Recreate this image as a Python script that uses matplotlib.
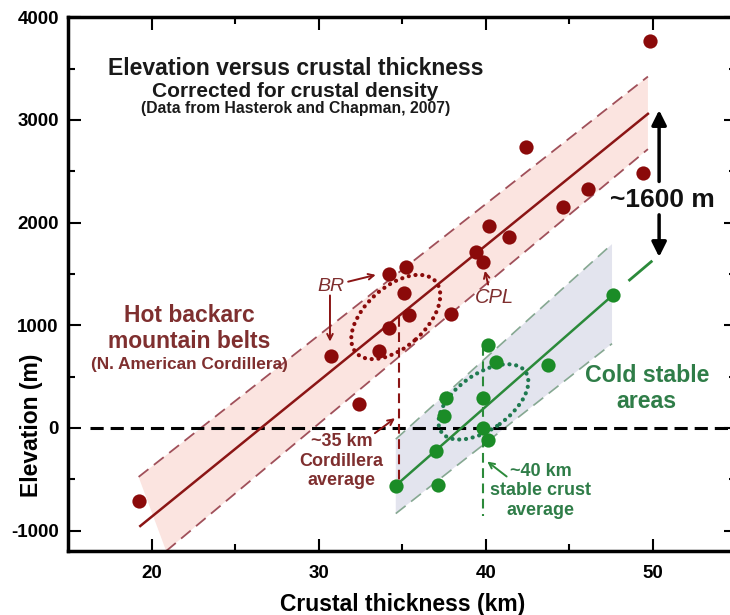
import numpy as np
import matplotlib.pyplot as plt
from matplotlib.patches import Ellipse, Polygon
from matplotlib.transforms import Affine2D

plt.rcParams['font.family'] = ['Liberation Sans', 'DejaVu Sans']
plt.rcParams['font.weight'] = 'bold'
plt.rcParams['lines.scale_dashes'] = False
plt.rcParams['axes.unicode_minus'] = False

# hot backarc mountain belts (N. American Cordillera)
hot_x = [19.2, 30.7, 32.4, 33.6, 34.2, 34.2, 35.2, 35.1, 35.4, 37.9,
         39.4, 39.8, 40.2, 41.4, 42.4, 44.6, 46.1, 49.4, 49.8]
hot_y = [-715, 696, 229, 753, 975, 1503, 1568, 1315, 1101, 1109,
         1709, 1618, 1962, 1855, 2734, 2153, 2325, 2482, 3771]

# cold stable areas
cold_x = [34.6, 37.1, 37.0, 37.5, 37.6, 39.8, 39.8, 40.1, 40.1, 40.6, 43.7, 47.6]
cold_y = [-562, -554, -222, 115, 287, 294, 0, -115, 803, 639, 612, 1293]

# fit lines and band edges
hot_fit_x = [19.3, 49.7]
hot_fit_y = [-956, 3059]
hot_up_x = [19.2, 49.7]
hot_up_y = [-478, 3422]
hot_lo_x = [20.85, 49.7]
hot_lo_y = [-1200, 2715]

cold_fit_x = [34.6, 47.6]
cold_fit_y = [-562, 1293]
cold_ext_x = [48.6, 49.9]
cold_ext_y = [1440, 1619]
cold_up_x = [34.6, 47.55]
cold_up_y = [-110, 1790]
cold_lo_x = [34.6, 47.55]
cold_lo_y = [-835, 820]

hot_avg = 34.8
cold_avg = 39.85

red_pt = '#8b0a0a'
red_ln = '#8b1515'
red_dash = '#a0505a'
red_txt = '#7f2f2f'
pink = '#fbe4e0'
green_pt = '#1b8c27'
green_ln = '#2b8a3a'
green_dash = '#86a892'
green_txt = '#2f7d48'
lavender = '#e3e4ee'

fig = plt.figure(figsize=(7.3, 6.15), dpi=100)
ax = fig.add_axes([0.0938, 0.104, 0.915, 0.868])
ax.set_xlim(15, 55)
ax.set_ylim(-1200, 4000)

# bands
ax.add_patch(Polygon([(hot_up_x[0], hot_up_y[0]), (hot_up_x[1], hot_up_y[1]),
                      (hot_lo_x[1], hot_lo_y[1]), (hot_lo_x[0], hot_lo_y[0])],
                     closed=True, facecolor=pink, edgecolor='none', zorder=1))
ax.add_patch(Polygon([(cold_up_x[0], cold_up_y[0]), (cold_up_x[1], cold_up_y[1]),
                      (cold_lo_x[1], cold_lo_y[1]), (cold_lo_x[0], cold_lo_y[0])],
                     closed=True, facecolor=lavender, edgecolor='none', zorder=1))

ax.plot(hot_up_x, hot_up_y, color=red_dash, lw=1.3, dashes=(9, 5), zorder=2)
ax.plot(hot_lo_x, hot_lo_y, color=red_dash, lw=1.3, dashes=(9, 5), zorder=2)
ax.plot(hot_fit_x, hot_fit_y, color=red_ln, lw=1.8, zorder=3)

ax.plot(cold_up_x, cold_up_y, color=green_dash, lw=1.2, dashes=(9, 5), zorder=2)
ax.plot(cold_lo_x, cold_lo_y, color=green_dash, lw=1.2, dashes=(9, 5), zorder=2)
ax.plot(cold_fit_x, cold_fit_y, color=green_ln, lw=1.8, zorder=3)
ax.plot(cold_ext_x, cold_ext_y, color=green_ln, lw=2.0, zorder=3)

# zero line and average lines
ax.axhline(0, xmin=(16.3 - 15) / 40, color='black', lw=2.2, dashes=(9.5, 5), zorder=2)
ax.plot([hot_avg, hot_avg], [1080, -560], color=red_ln, lw=1.5, dashes=(7, 4), zorder=2)
ax.plot([cold_avg, cold_avg], [800, -860], color=green_ln, lw=1.5, dashes=(7, 4), zorder=2)

# dotted ellipses, drawn in a space where 1 km and 162.5 m look the same
sy = 162.5
iso = Affine2D().scale(1, sy) + ax.transData
ax.add_patch(Ellipse((34.6, 1080 / sy), 6.4, 3.6, angle=42, transform=iso,
                     fill=False, edgecolor=red_pt, lw=3, ls=(0, (0.1, 4.8)),
                     capstyle='round', zorder=4))
ax.add_patch(Ellipse((39.85, 253 / sy), 6.2, 3.3, angle=36, transform=iso,
                     fill=False, edgecolor='#1f7a50', lw=3, ls=(0, (0.1, 4.8)),
                     capstyle='round', zorder=4))

ax.scatter(hot_x, hot_y, s=105, color=red_pt, zorder=5, linewidths=0)
ax.scatter(cold_x, cold_y, s=105, color=green_pt, zorder=5, linewidths=0)

# titles
ax.text(28.6, 3505, 'Elevation versus crustal thickness', ha='center', va='center',
        fontsize=16.6, color='#1a1a1a')
ax.text(28.6, 3278, 'Corrected for crustal density', ha='center', va='center',
        fontsize=15, color='#1a1a1a')
ax.text(28.6, 3112, '(Data from Hasterok and Chapman, 2007)', ha='center', va='center',
        fontsize=11.3, color='#1a1a1a')

# group labels
ax.text(22.25, 1095, 'Hot backarc', ha='center', va='center', fontsize=16.5, color=red_txt)
ax.text(22.25, 840, 'mountain belts', ha='center', va='center', fontsize=16.5, color=red_txt)
ax.text(22.25, 613, '(N. American Cordillera)', ha='center', va='center', fontsize=12.4,
        color=red_txt)
ax.text(49.63, 506, 'Cold stable', ha='center', va='center', fontsize=16.7, color=green_txt)
ax.text(49.63, 255, 'areas', ha='center', va='center', fontsize=16.7, color=green_txt)

for yy, s in zip([-134, -325, -516], ['~35 km', 'Cordillera', 'average']):
    ax.text(31.36, yy, s, ha='center', va='center', fontsize=13, color=red_txt)
for yy, s in zip([-421, -612, -803], ['~40 km', 'stable crust', 'average']):
    ax.text(43.28, yy, s, ha='center', va='center', fontsize=13, color=green_txt)

# callouts
arr_r = dict(arrowstyle='->', color=red_ln, lw=1.4, shrinkA=0, shrinkB=0)
ax.text(30.72, 1377, 'BR', ha='center', va='center', fontsize=14, style='italic',
        fontweight='normal', color=red_txt)
ax.annotate('', xy=(33.4, 1490), xytext=(31.75, 1424), arrowprops=arr_r)
ax.annotate('', xy=(30.66, 840), xytext=(30.66, 1290), arrowprops=arr_r)
ax.text(40.53, 1273, 'CPL', ha='center', va='center', fontsize=14.5, style='italic',
        fontweight='normal', color=red_txt)
ax.annotate('', xy=(39.94, 1530), xytext=(40.13, 1396), arrowprops=arr_r)
ax.annotate('', xy=(34.55, 94), xytext=(33.35, -52), arrowprops=arr_r)
ax.annotate('', xy=(40.08, -328), xytext=(41.24, -474),
            arrowprops=dict(arrowstyle='->', color=green_ln, lw=1.4, shrinkA=0, shrinkB=0))

# offset between the two trends
arr_k = dict(arrowstyle='-|>', color='black', lw=2.5, mutation_scale=22,
             shrinkA=0, shrinkB=0)
ax.annotate('', xy=(50.37, 3095), xytext=(50.37, 2400), arrowprops=arr_k)
ax.annotate('', xy=(50.37, 1665), xytext=(50.37, 2075), arrowprops=arr_k)
ax.text(50.56, 2218, '~1600 m', ha='center', va='center', fontsize=19, color='#111111')

ax.set_xticks([20, 30, 40, 50])
ax.set_xticks([25, 35, 45], minor=True)
ax.set_yticks([-1000, 0, 1000, 2000, 3000, 4000])
ax.set_yticks([-500, 500, 1500, 2500, 3500], minor=True)
ax.tick_params(which='both', direction='in', top=True, right=True, width=1.5,
               labelsize=13.5, pad=7)
ax.tick_params(axis='x', which='both', pad=10)
ax.tick_params(which='major', length=9)
ax.tick_params(which='minor', length=5)
for sp in ax.spines.values():
    sp.set_linewidth(2.5)

ax.set_xlabel('Crustal thickness (km)', fontsize=16.5, fontweight='bold', labelpad=8)
ax.set_ylabel('Elevation (m)', fontsize=16.5, fontweight='bold', va='center')
ax.yaxis.set_label_coords(12.8, 20, transform=ax.transData)

fig.savefig('out.png', dpi=100)
